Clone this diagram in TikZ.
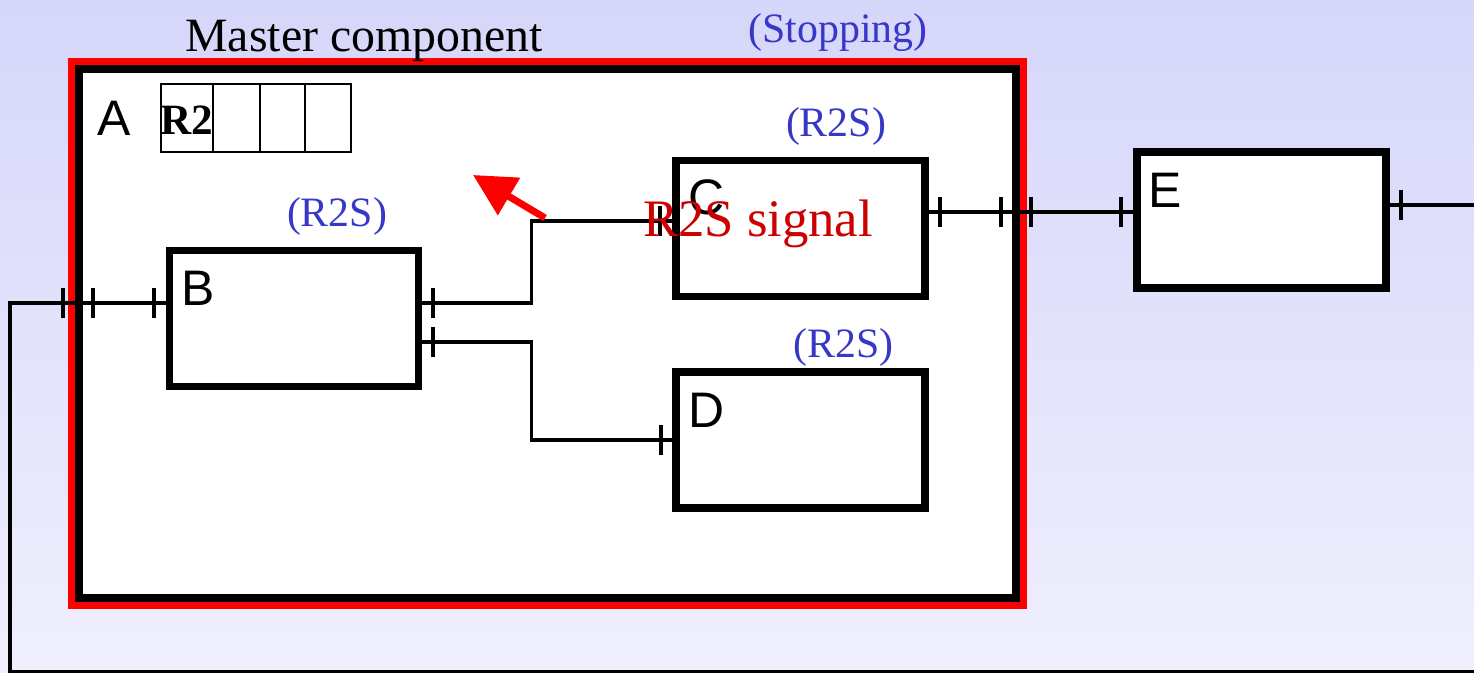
\documentclass[tikz,border=0pt]{standalone}
\usepackage{fontspec}
\setmainfont{Liberation Serif}
\setsansfont{Liberation Sans}
\usepackage{xcolor}
\usepackage{tikz}
\usetikzlibrary{positioning, arrows.meta, calc}

\definecolor{bgtop}{RGB}{214,214,250}
\definecolor{bgbottom}{RGB}{239,239,253}
\definecolor{stateblue}{RGB}{55,55,200}
\definecolor{signalred}{RGB}{204,0,0}

\begin{document}
\begin{tikzpicture}[x=0.1mm, y=-0.1mm]
        \tikzstyle{comp} = [rectangle, draw, line width=0.75mm, fill=white, minimum width=24.9mm, minimum height=13.6mm, inner sep=0pt]
        \tikzstyle{master} = [rectangle, draw, line width=0.8mm, fill=white, minimum width=93.7mm, minimum height=52.9mm, inner sep=0pt]
        \tikzstyle{stopframe} = [draw=red, line width=0.7mm]
        \tikzstyle{regcell} = [rectangle, draw, line width=0.6pt, minimum height=6.8mm, inner sep=0pt, outer sep=0pt]
        \tikzstyle{wire} = [line width=0.32mm]
        \tikzstyle{porttick} = [line width=0.34mm]
        \tikzstyle{lbl} = [font=\fontsize{14.2}{16}\selectfont\sffamily, anchor=base west, inner sep=0pt]
        \tikzstyle{state} = [font=\fontsize{11.9}{14}\selectfont, text=stateblue, anchor=base, inner sep=0pt]
        \tikzstyle{sigarrow} = [red, line width=0.7mm, -{Triangle[length=4.2mm, width=4.2mm]}]

        \clip (0,0) rectangle (1474,673);
        \shade [top color=bgtop, bottom color=bgbottom] (0,0) rectangle (1474,673);

        % master component and its stopping frame
        \node [master] (A) at (547.5,333.5) {};
        \draw [stopframe] ($(A.north west)+(-3.5,-3.5)$) rectangle ($(A.south east)+(3.5,3.5)$);
        \node [lbl] (Albl) at (97,135.7) {A};
        \node [font=\fontsize{13.6}{16}\selectfont, anchor=base, inner sep=0pt] (Atitle) at (364,52) {Master component};
        \node [state] (Astate) at (838,43) {(Stopping)};

        % register
        \node [regcell, minimum width=5.2mm, anchor=north west] (reg1) at (161,84) {};
        \node [regcell, minimum width=4.7mm, right=0pt of reg1] (reg2) {};
        \node [regcell, minimum width=4.5mm, right=0pt of reg2] (reg3) {};
        \node [regcell, minimum width=4.6mm, right=0pt of reg3] (reg4) {};
        \node [font=\fontsize{12.3}{14}\selectfont\bfseries, anchor=base west, inner sep=0pt] (regval) at (159.5,135) {R2};

        % sub components
        \node [comp] (B) at (294,318.4) {};
        \node [comp] (C) at (800.7,228.3) {};
        \node [comp] (D) at (800.7,440) {};
        \node [comp] (E) at (1261.5,220) {};
        \node [lbl] (Blbl) at ($(B.north west)+(15,59)$) {B};
        \node [lbl] (Clbl) at ($(C.north west)+(15,58)$) {C};
        \node [lbl] (Dlbl) at ($(D.north west)+(15,59)$) {D};
        \node [lbl] (Elbl) at ($(E.north west)+(15,59)$) {E};
        \node [state] (Bstate) at (337,227) {(R2S)};
        \node [state] (Cstate) at (836,136.7) {(R2S)};
        \node [state] (Dstate) at (843.7,357.3) {(R2S)};

        % connections
        \coordinate (loopR) at (1500,672);
        \coordinate (loopL) at (10,672);
        \draw [wire] ([yshift=1.54mm]B.east) -- ++(109.3,0) |- ([yshift=0.73mm]C.west);
        \draw [wire] ([yshift=-2.36mm]B.east) -- ++(109.3,0) |- (D.west);
        \draw [wire] ([yshift=1.63mm]C.east) coordinate (cout) -- (cout -| E.west);
        \draw [wire] ([yshift=1.5mm]E.east) coordinate (eout) -- (eout -| loopR) -- (loopR) -- (loopL) |- ([yshift=1.54mm]B.west);
        \foreach \x/\y in {63/303, 93/303, 154/303, 433/303, 433/342, 660/221, 661/440, 940/212, 1001/212, 1031/212, 1121/212, 1401/205}
            \draw [porttick] (\x,\y-15) -- (\x,\y+15);

        % signal
        \coordinate (sigtail) at (545,218);
        \coordinate (sigtip) at (473,175);
        \draw [sigarrow] (sigtail) -- (sigtip);
        \node [font=\fontsize{15}{18}\selectfont, text=signalred, anchor=base, inner sep=0pt] (sig) at (758,237) {R2S signal};
\end{tikzpicture}
\end{document}
